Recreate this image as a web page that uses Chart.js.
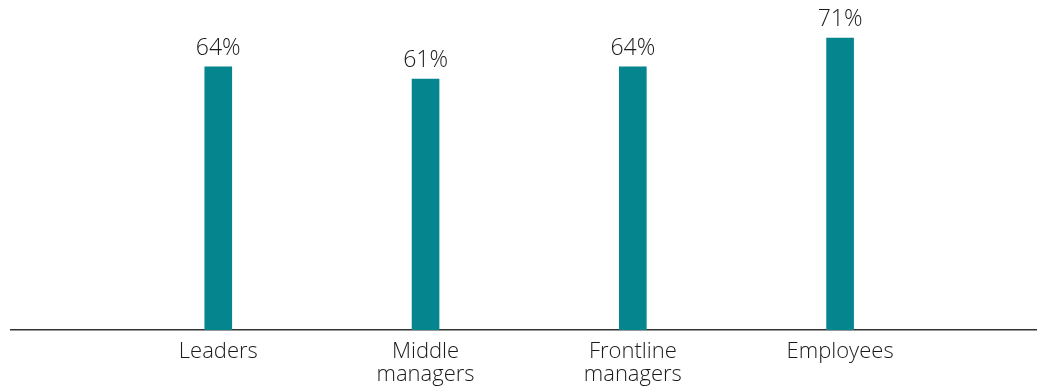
<!DOCTYPE html>
<html>
<head>
<meta charset="utf-8">
<script src="https://cdn.jsdelivr.net/npm/chart.js@4"></script>
<style>
  html, body { margin: 0; padding: 0; background: #fff; }
  .graph-container { width: 1037px; height: 392px; }
</style>
</head>
<body>
<div class="graph-container">
  <canvas id="chart"></canvas>
</div>
<script>
// categories and values
const categories = [['Leaders'], ['Middle', 'managers'], ['Frontline', 'managers'], ['Employees']];
const values = [64, 61, 64, 71];
const positions = [1, 2, 3, 4]; // slot of each bar along the axis

const teal = '#05868e';
const textColor = '#1a1a1a';
const fontFamily = '"Open Sans", "DejaVu Sans", sans-serif';

// value labels above the bars
const barLabels = {
  id: 'barLabels',
  afterDatasetsDraw(chart) {
    const ctx = chart.ctx;
    const meta = chart.getDatasetMeta(0);
    ctx.save();
    ctx.font = '300 23px ' + fontFamily;
    ctx.fillStyle = textColor;
    ctx.textAlign = 'center';
    ctx.textBaseline = 'alphabetic';
    meta.data.forEach((bar, i) => {
      ctx.fillText(values[i] + '%', bar.x, bar.y - 12);
    });
    ctx.restore();
  }
};

const ctx = document.getElementById('chart');
new Chart(ctx, {
  type: 'bar',
  data: {
    datasets: [{
      data: positions.map((p, i) => ({ x: p, y: values[i] })),
      backgroundColor: teal,
      borderWidth: 0,
      barThickness: 27
    }]
  },
  options: {
    responsive: true,
    maintainAspectRatio: false,
    animation: false,
    layout: { padding: { left: 11, top: 1, right: 0, bottom: 0 } },
    plugins: {
      legend: { display: false },
      tooltip: { enabled: false }
    },
    scales: {
      x: {
        type: 'linear',
        min: 0,
        max: 4.95,
        offset: false,
        grid: { display: false, drawTicks: false },
        border: { display: true, color: '#333333', width: 1.5 },
        afterFit(scale) { scale.height = 62; },
        afterBuildTicks(scale) {
          scale.ticks = positions.map(p => ({ value: p }));
        },
        ticks: {
          autoSkip: false,
          maxRotation: 0,
          padding: 10,
          color: textColor,
          font: { family: fontFamily, size: 22, weight: 300, lineHeight: 1.04 },
          callback: (v) => {
            const i = positions.indexOf(v);
            return i >= 0 ? categories[i] : '';
          }
        }
      },
      y: {
        display: false,
        min: 0,
        max: 80
      }
    }
  },
  plugins: [barLabels]
});
</script>
</body>
</html>
